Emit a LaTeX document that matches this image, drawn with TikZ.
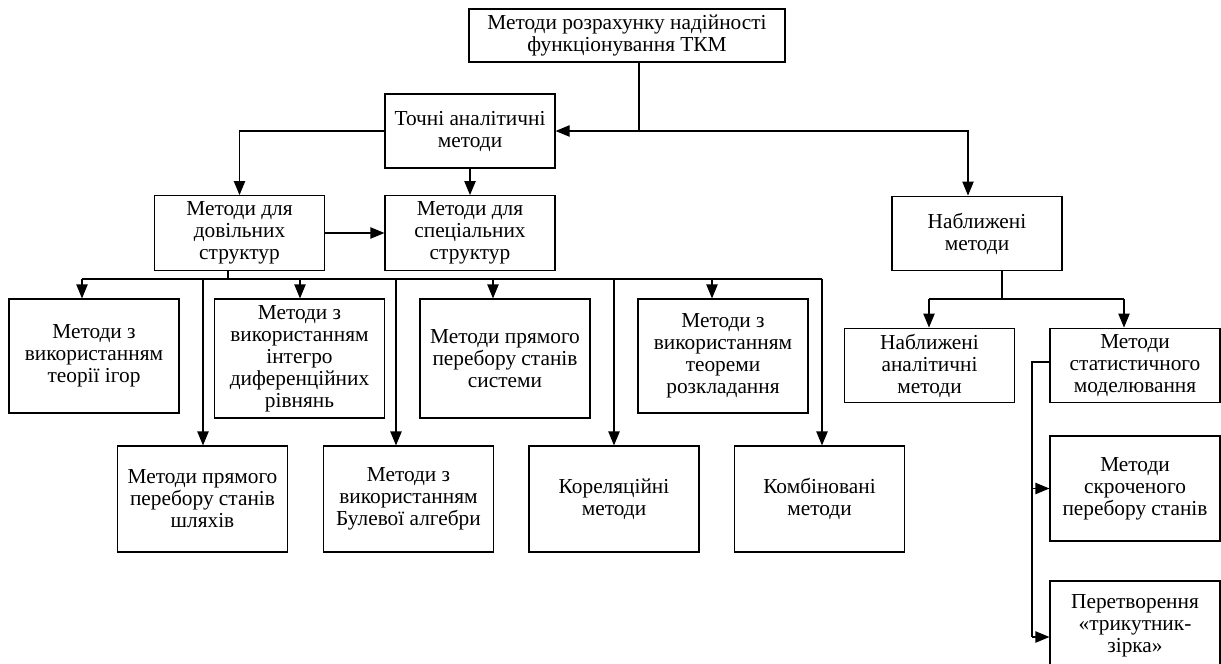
\documentclass[tikz,border=0pt]{standalone}
\usepackage{fontspec}
\setmainfont{Liberation Serif}
\usetikzlibrary{arrows.meta, positioning, calc}

\begin{document}
\begin{tikzpicture}[
    x=0.75pt, y=-0.75pt,
    block/.style={draw, line width=0.9pt, align=center, inner sep=2pt,
        minimum width=127.5pt, minimum height=56pt,
        font=\fontsize{16}{16.5}\selectfont},
    link/.style={line width=0.9pt, -{Triangle[length=10.5pt, width=8.5pt]}},
    wire/.style={line width=0.9pt}
]
    \useasboundingbox (0,0) rectangle (1221,664);

    % top levels
    \node[block, minimum width=237pt, minimum height=39.75pt] (top) at (627,35.5)
        {Методи розрахунку надійності\\функціонування ТКМ};
    \node[block, minimum height=55.5pt] (exact) at (470,131) {Точні аналітичні\\методи};
    \node[block] (arb) at (239.5,233) {Методи для\\довільних\\структур};
    \node[block] (spec) at (470,233) {Методи для\\спеціальних\\структур};
    \node[block] (approx) at (977,233.5) {Наближені\\методи};

    % exact methods
    \node[block, minimum height=85.5pt] (games) at (94,356) {Методи з\\використанням\\теорії ігор};
    \node[block, minimum height=89.25pt] (integro) at (299.5,358.5)
        {Методи з\\використанням\\інтегро\\диференційних\\рівнянь};
    \node[block, minimum height=89.25pt] (system) at (505,358.5)
        {Методи прямого\\перебору станів\\системи};
    \node[block, minimum height=85.5pt] (decomp) at (723,356)
        {Методи з\\використанням\\теореми\\розкладання};
    \node[block, minimum height=79.5pt] (paths) at (202.5,499)
        {Методи прямого\\перебору станів\\шляхів};
    \node[block, minimum height=79.5pt] (boole) at (408.5,499)
        {Методи з\\використанням\\Булевої алгебри};
    \node[block, minimum height=79.5pt] (correl) at (614,499) {Кореляційні\\методи};
    \node[block, minimum height=79.5pt] (combo) at (819.5,499) {Комбіновані\\методи};

    % approximate methods
    \node[block] (apan) at (929.5,365.5) {Наближені\\аналітичні\\методи};
    \node[block] (stat) at (1135,365.5) {Методи\\статистичного\\моделювання};
    \node[block, minimum height=78.75pt] (short) at (1135,488.5)
        {Методи\\скроченого\\перебору станів};
    \node[block, minimum height=67.5pt] (tri) at (1135,626)
        {Перетворення\\«трикутник-\\зірка»};

    % connectors from the top
    \coordinate (j1) at (639,131);
    \coordinate (j2) at (968,131);
    \draw[wire] (top.south -| j1) -- (j1);
    \draw[link] (j1) -- (j1 -| exact.east);
    \draw[link] (j1) -- (j2) -- (j2 |- approx.north);
    \draw[link] (exact.west) -| (arb.north);
    \draw[link] (exact.south) -- (spec.north);
    \draw[link] (arb.east) -- (spec.west);

    % bus under the structures
    \coordinate (a0) at (228,279);
    \coordinate (t1) at (82,279);
    \coordinate (t2) at (203,279);
    \coordinate (t3) at (300,279);
    \coordinate (t4) at (396,279);
    \coordinate (t5) at (493,279);
    \coordinate (t6) at (614,279);
    \coordinate (t7) at (712,279);
    \coordinate (t8) at (822,279);
    \draw[wire] (a0 |- arb.south) -- (a0);
    \draw[wire] (t1) -- (t8);
    \foreach \t/\n in {t1/games, t2/paths, t3/integro, t4/boole,
                       t5/system, t6/correl, t7/decomp, t8/combo}
        \draw[link] (\t) -- (\t |- \n.north);

    % approximate branch
    \coordinate (b0) at (1002,299);
    \coordinate (b1) at (929,299);
    \coordinate (b2) at (1124,299);
    \draw[wire] (b0 |- approx.south) -- (b0);
    \draw[wire] (b1) -- (b2);
    \draw[link] (b1) -- (b1 |- apan.north);
    \draw[link] (b2) -- (b2 |- stat.north);

    \coordinate (c0) at (1032,362);
    \coordinate (c1) at (1032,637);
    \draw[wire] (c0 -| stat.west) -- (c0) -- (c1);
    \draw[link] (c0 |- short.west) -- (short.west);
    \draw[link] (c1) -- (c1 -| tri.west);
\end{tikzpicture}
\end{document}
